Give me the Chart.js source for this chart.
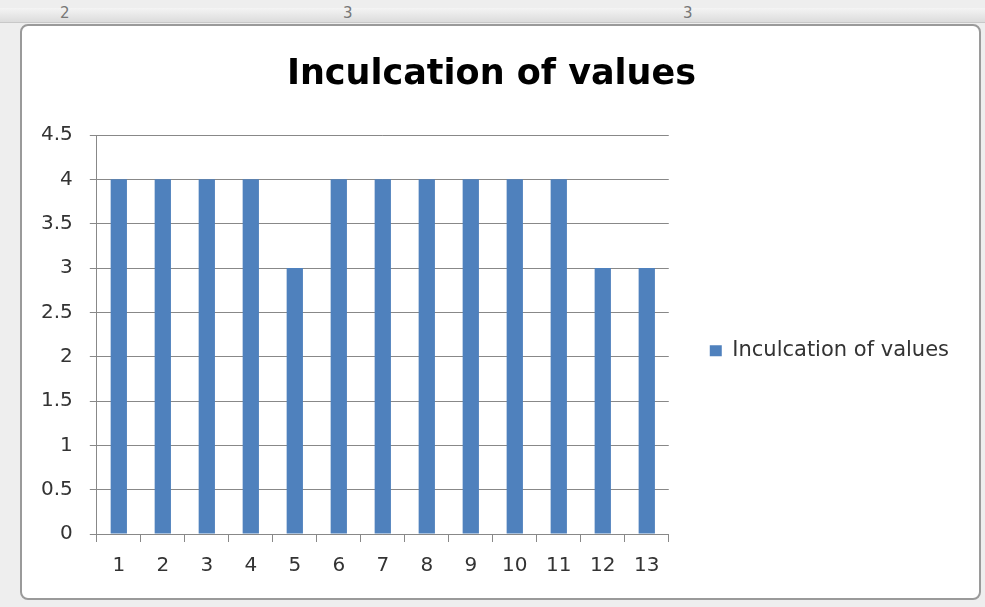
<!DOCTYPE html>
<html>
<head>
<meta charset="utf-8">
<script src="https://cdn.jsdelivr.net/npm/chart.js@4.4.1/dist/chart.umd.min.js"></script>
<style>
  html, body { margin: 0; padding: 0; }
  body { width: 985px; height: 607px; background: #eeeeee; position: relative; overflow: hidden; font-family: "DejaVu Sans", sans-serif; }
  #ruler { position: absolute; left: 0; top: 8px; width: 985px; height: 14px; background: linear-gradient(#f4f4f4, #dcdcdc); border-bottom: 1px solid #c8c8c8; }
  #ruler span { position: absolute; top: -4px; font-size: 15px; color: #777; }
  #frame { position: absolute; left: 20px; top: 24px; width: 957px; height: 572px; background: #fff; border: 2px solid #9a9a9a; border-radius: 8px; }
  #wrap { position: absolute; left: 0; top: 0; width: 957px; height: 572px; }
</style>
</head>
<body>
<div id="ruler"><span style="left:60px">2</span><span style="left:343px">3</span><span style="left:683px">3</span></div>
<div id="frame"><div id="wrap"><canvas id="myChart"></canvas></div></div>
<script>
// values
var categories = ['1', '2', '3', '4', '5', '6', '7', '8', '9', '10', '11', '12', '13'];
var values = [4, 4, 4, 4, 3, 4, 4, 4, 4, 4, 4, 3, 3];
var seriesName = 'Inculcation of values';
var yTicks = [0, 0.5, 1, 1.5, 2, 2.5, 3, 3.5, 4, 4.5];

var axisGrey = '#888888';
var textGrey = '#333333';
var font = 'DejaVu Sans';

var ctx = document.getElementById('myChart');
var myChart = new Chart(ctx, {
  type: 'bar',
  data: {
    labels: categories,
    datasets: [{
      label: seriesName,
      data: values,
      backgroundColor: '#4f81bd',
      barPercentage: 0.37,
      categoryPercentage: 1
    }]
  },
  options: {
    responsive: true,
    maintainAspectRatio: false,
    animation: false,
    layout: { padding: { left: 2, right: 20, bottom: 8, top: 0 } },
    plugins: {
      title: {
        display: true,
        text: 'Inculcation of values',
        color: '#000',
        font: { family: font, size: 35, weight: 'bold' },
        padding: { top: 28, bottom: 39 }
      },
      legend: {
        position: 'right',
        maxWidth: 320,
        // empty title just pushes the single item down a bit
        title: { display: true, text: ' ', padding: { top: 71, bottom: 0 } },
        labels: {
          color: textGrey,
          font: { family: font, size: 21 },
          boxWidth: 12,
          boxHeight: 11,
          padding: 41
        }
      },
      tooltip: { enabled: false }
    },
    scales: {
      x: {
        grid: { drawOnChartArea: false, drawTicks: true, tickLength: 8, color: axisGrey },
        border: { display: true, color: axisGrey },
        ticks: { color: textGrey, font: { family: font, size: 20 }, padding: 12 }
      },
      y: {
        min: 0,
        max: 4.5,
        afterBuildTicks: function(axis) {
          axis.ticks = yTicks.map(function(v) { return { value: v }; });
        },
        grid: { color: axisGrey, tickLength: 7 },
        border: { display: true, color: axisGrey },
        ticks: {
          color: textGrey,
          font: { family: font, size: 20 },
          padding: 17,
          callback: function(v) { return String(v); }
        }
      }
    }
  }
});
</script>
</body>
</html>
